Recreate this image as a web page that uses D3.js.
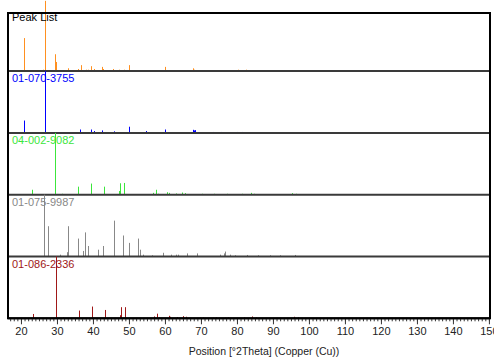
<!DOCTYPE html>
<html>
<head>
<meta charset="utf-8">
<script src="https://cdn.jsdelivr.net/npm/d3@7"></script>
<style>
  html, body { margin: 0; padding: 0; background: #fff; }
  svg { display: block; font-family: "Liberation Sans", Arial, sans-serif; }
</style>
</head>
<body>
<svg id="chart" width="494" height="363"></svg>
<script>
// Sample peak list (relative intensity, %)
const peakListPos = [20.83, 26.0, 26.6, 29.38, 29.72, 33.05, 35.95, 36.55, 37.95, 38.7, 39.45, 40.4, 42.42, 42.8, 45.7, 47.3, 48.6, 50.1, 52.5, 54.9, 59.9, 64.0, 67.7, 68.2, 73.5, 75.7, 80.2, 82.5];
const peakListInt = [47, 2, 100, 24, 13, 4, 3, 8.5, 2, 2, 7, 3, 6, 3, 3, 2, 2, 8.5, 1.5, 1.5, 6, 1.5, 4, 2, 1.5, 1.5, 2, 2];

// Reference pattern 01-070-3755
const ref1Pos = [20.86, 26.64, 36.54, 39.47, 40.29, 42.45, 45.79, 50.14, 54.87, 55.33, 59.96, 63.99, 65.79, 67.74, 68.14, 68.32, 73.47, 75.66, 77.68, 79.88, 81.49, 83.84, 87.44, 90.83, 92.8, 94.65, 96.2, 98.7, 102.2, 103.8, 106.6, 112.1, 114.1, 115.0, 117.6, 122.6, 127.0, 134.2];
const ref1Int = [20, 100, 5.5, 5.5, 3, 4, 2.5, 10, 3, 1, 5.5, 1, 0.5, 5, 4, 4.5, 1.5, 1.5, 0.5, 1.5, 1.5, 0.5, 0.5, 1, 0.5, 0.5, 0.5, 0.5, 0.5, 0.5, 0.5, 0.5, 0.5, 0.5, 0.5, 0.5, 0.5, 0.5];

// Reference pattern 04-002-9082
const ref2Pos = [23.03, 29.4, 31.42, 35.96, 39.4, 43.15, 47.1, 47.5, 48.5, 56.55, 57.4, 58.08, 60.65, 61.0, 61.4, 63.05, 64.65, 65.6, 69.2, 70.2, 72.9, 73.7, 76.3, 77.1, 81.5, 83.8, 84.8, 94.4, 95.2, 96.4];
const ref2Int = [8, 100, 1.5, 13, 18, 13, 6, 18.5, 19, 3, 8, 1.5, 4, 3, 1, 2, 3.5, 2.5, 1, 1.5, 1, 1.5, 1, 1.5, 1.5, 3, 1.5, 1, 2.5, 1.5];

// Reference pattern 01-075-9987
const ref3Pos = [26.3, 27.41, 30.9, 32.85, 33.05, 35.9, 37.13, 37.68, 38.6, 41.3, 42.68, 45.96, 48.23, 50.07, 52.4, 53.04, 53.95, 56.3, 59.34, 61.56, 63.03, 63.5, 66.0, 68.78, 75.25, 76.36, 76.63, 78.0, 79.4, 82.66, 85.9, 89.1, 91.9, 96.07];
const ref3Int = [100, 49, 3, 7, 49, 29, 9, 39, 17, 11, 17, 58, 34, 22, 29, 11, 3, 2, 6, 3, 3, 3, 5, 5, 3, 5, 8, 3, 2, 2.5, 2, 2, 2, 2.5];

// Reference pattern 01-086-2336
const ref4Pos = [23.3, 29.72, 31.7, 36.25, 39.75, 43.45, 47.4, 47.85, 48.9, 56.85, 57.75, 58.4, 61.0, 61.4, 63.4, 65.0, 65.9, 69.6, 70.6, 73.3, 74.1, 76.8, 77.6, 82.0, 84.3, 85.3, 95.8, 97.0];
const ref4Int = [7, 100, 1.5, 12.5, 19, 13.5, 5, 18, 18, 3, 7.5, 1.5, 4, 2.5, 2, 3.5, 2.5, 1, 1.5, 1, 1.5, 1, 1.5, 1.5, 3, 1.5, 2.5, 1.5];

const panelNames = ["Peak List", "01-070-3755", "04-002-9082", "01-075-9987", "01-086-2336"];
const panelColors = ["#ff9020", "#0000ff", "#3ce63c", "#888888", "#a01818"];
const panelPos = [peakListPos, ref1Pos, ref2Pos, ref3Pos, ref4Pos];
const panelInt = [peakListInt, ref1Int, ref2Int, ref3Int, ref4Int];
// full-scale value of each panel
const panelMax = [88, 100, 100, 100, 100];

const majorTicks = d3.range(20, 151, 10);
const axisTitle = "Position [°2Theta] (Copper (Cu))";

const svg = d3.select("#chart");
const plotLeft = 8, plotRight = 490, plotTop = 13, plotBottom = 318.3;
const panelH = 61.8;

const x = d3.scaleLinear().domain([16.4, 150.3]).range([plotLeft, plotRight]);

// panel baselines, bottom panel sits on the axis
const baseY = panelNames.map((d, i) => plotBottom - (panelNames.length - 1 - i) * panelH);

panelNames.forEach((name, i) => {
  const y = d3.scaleLinear().domain([0, panelMax[i]]).range([baseY[i], baseY[i] - panelH]);
  const g = svg.append("g");
  const data = panelPos[i].map((p, k) => ({ p, v: panelInt[i][k] }));
  g.selectAll("line")
    .data(data)
    .join("line")
    .attr("x1", d => Math.round(x(d.p)) + 0.5)
    .attr("x2", d => Math.round(x(d.p)) + 0.5)
    .attr("y1", y(0))
    .attr("y2", d => y(d.v))
    .attr("stroke", panelColors[i])
    .attr("stroke-width", 1);
  g.append("text")
    .attr("x", 12)
    .attr("y", baseY[i] - 50.5)
    .attr("font-size", 11)
    .attr("fill", i === 0 ? "#000" : panelColors[i])
    .text(name);
  if (i < panelNames.length - 1) {
    svg.append("line")
      .attr("x1", plotLeft).attr("x2", plotRight)
      .attr("y1", baseY[i]).attr("y2", baseY[i])
      .attr("stroke", "#3a3a3a").attr("stroke-width", 2);
  }
});

// outer frame
svg.append("rect")
  .attr("x", plotLeft).attr("y", plotTop)
  .attr("width", plotRight - plotLeft).attr("height", plotBottom - plotTop)
  .attr("fill", "none").attr("stroke", "#000").attr("stroke-width", 2);

// minor ticks every degree
svg.append("g")
  .attr("transform", `translate(0,${plotBottom})`)
  .call(d3.axisBottom(x).tickValues(d3.range(17, 151, 1)).tickSize(3).tickFormat(""))
  .call(g => g.select(".domain").remove())
  .call(g => g.selectAll("line").attr("stroke", "#333"));

// major ticks and labels
svg.append("g")
  .attr("transform", `translate(0,${plotBottom})`)
  .call(d3.axisBottom(x).tickValues(majorTicks).tickSize(6).tickPadding(3).tickFormat(d3.format("d")))
  .call(g => g.select(".domain").remove())
  .call(g => g.selectAll("line").attr("stroke", "#333"))
  .call(g => g.selectAll("text").attr("font-size", 11).attr("fill", "#222")
    .attr("font-family", "'Liberation Sans', Arial, sans-serif"));

svg.append("line")
  .attr("x1", plotLeft).attr("x2", plotRight)
  .attr("y1", plotBottom).attr("y2", plotBottom)
  .attr("stroke", "#000").attr("stroke-width", 2);

svg.append("text")
  .attr("x", 264).attr("y", 355)
  .attr("text-anchor", "middle")
  .attr("font-size", 10.5)
  .attr("fill", "#222")
  .text(axisTitle);
</script>
</body>
</html>
